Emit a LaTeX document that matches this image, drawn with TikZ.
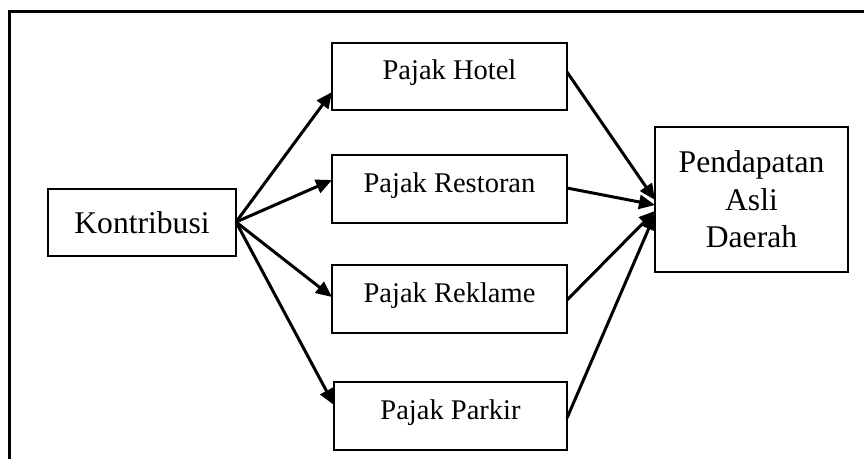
\documentclass[tikz,border=0pt]{standalone}
\usepackage{fontspec}
\setmainfont{Liberation Serif}
\usetikzlibrary{arrows.meta}
\begin{document}
\begin{tikzpicture}[x=1pt,y=-1pt,
  box/.style={draw,line width=2.2pt,inner sep=0pt,outer sep=0pt,text height=20pt,text depth=14pt,font=\fontsize{28.5}{33}\selectfont},
  bigbox/.style={draw,line width=2.2pt,inner sep=0pt,outer sep=0pt,font=\fontsize{31.6}{37.5}\selectfont,align=center},
  arr/.style={line width=3pt,-{Triangle[length=16pt,width=14pt]}}]
\useasboundingbox (0,0) rectangle (864,459);
% frame
\draw[line width=3pt] (9,459) -- (9,11) -- (864,11);
% nodes
\node[bigbox,minimum width=188pt,minimum height=67pt] (k) at (142,222.5) {Kontribusi};
\node[box,minimum width=235pt,minimum height=67pt] (h) at (449.5,76.5) {Pajak Hotel};
\node[box,minimum width=235pt,minimum height=68pt] (r) at (449.5,189) {Pajak Restoran};
\node[box,minimum width=235pt,minimum height=68pt] (rk) at (449.5,299) {Pajak Reklame};
\node[box,minimum width=233pt,minimum height=68pt] (p) at (450.5,416) {Pajak Parkir};
\node[bigbox,minimum width=193pt,minimum height=145pt] (pad) at (751.5,199.5) {Pendapatan\\Asli\\Daerah};
% anchors
\coordinate (ko) at (236,222);
% arrows from Kontribusi
\draw[arr] (ko) -- (h.west |- 0,92);
\draw[arr] (ko) -- (r.west |- 0,180);
\draw[arr] (ko) -- (rk.west |- 0,297);
\draw[arr] (ko) -- (p.west |- 0,405);
% arrows to PAD
\draw[arr] (h.east |- 0,72) -- (pad.west |- 0,200);
\draw[arr] (r.east |- 0,188) -- (pad.west |- 0,205);
\draw[arr] (rk.east |- 0,300) -- (pad.west |- 0,211);
\draw[arr] (p.east |- 0,418) -- (pad.west |- 0,214);
\end{tikzpicture}
\end{document}
